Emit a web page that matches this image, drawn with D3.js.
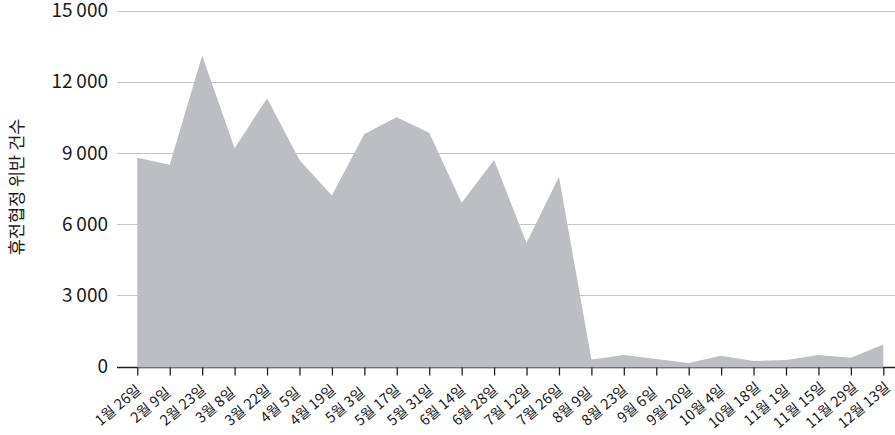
<!DOCTYPE html>
<html>
<head>
<meta charset="utf-8">
<script src="https://cdn.jsdelivr.net/npm/d3@7"></script>
<style>
  body { margin: 0; background: #fff; }
  text { font-family: "Noto Sans CJK KR", "Noto Sans", sans-serif; fill: #1a1a1a; }
</style>
</head>
<body>
<svg></svg>
<script>
const width = 895;
const height = 435;

// 날짜 (2주 간격)
const dates = ["1월 26일", "2월 9일", "2월 23일", "3월 8일", "3월 22일", "4월 5일",
    "4월 19일", "5월 3일", "5월 17일", "5월 31일", "6월 14일", "6월 28일",
    "7월 12일", "7월 26일", "8월 9일", "8월 23일", "9월 6일", "9월 20일",
    "10월 4일", "10월 18일", "11월 1일", "11월 15일", "11월 29일", "12월 13일"];
// 휴전협정 위반 건수
const violations = [8800, 8500, 13100, 9200, 11300, 8700, 7200, 9800, 10500, 9850,
    6900, 8700, 5200, 8000, 300, 480, 320, 150, 450, 230, 270, 480, 370, 930];
const yTicks = [0, 3000, 6000, 9000, 12000, 15000];
const yTickLabels = ["0", "3\u2009000", "6\u2009000", "9\u2009000", "12\u2009000", "15\u2009000"];
const yTitle = "휴전협정 위반 건수";

let svg = d3.select("svg").attr("width", width).attr("height", height);

let x = d3.scalePoint().domain(dates).range([137.3, 883.3]);
let y = d3.scaleLinear().domain([0, 15000]).range([366.5, 10.5]);

// 눈금선
let grid = svg.append("g");
grid.selectAll("line")
    .data(yTicks)
    .join("line")
    .attr("x1", 117)
    .attr("x2", width)
    .attr("y1", (d) => Math.round(y(d)) + 0.5)
    .attr("y2", (d) => Math.round(y(d)) + 0.5)
    .style("stroke", (d) => (d === 0 ? "#222" : "#c6c6c6"))
    .style("stroke-width", (d) => (d === 0 ? 1.5 : 1));

grid.selectAll("text")
    .data(yTicks)
    .join("text")
    .attr("x", 108)
    .attr("y", (d) => y(d))
    .attr("dy", "0.35em")
    .attr("text-anchor", "end")
    .style("font-size", "19px")
    .text((d, i) => yTickLabels[i]);

// 영역
let area = d3.area()
    .x((d, i) => x(dates[i]))
    .y0(y(0) + 1)
    .y1((d) => y(d));

svg.append("path")
    .attr("d", area(violations))
    .style("fill", "#bdbec2");

// x축
let xAxis = svg.append("g")
    .attr("transform", `translate(0,${y(0) + 1})`)
    .call(d3.axisBottom(x).tickSize(8).tickSizeOuter(0));
xAxis.select(".domain").remove();
xAxis.selectAll(".tick line").style("stroke", "#222").style("stroke-width", 1.3);
xAxis.selectAll(".tick text")
    .style("font-family", '"Noto Sans CJK KR", sans-serif')
    .style("font-size", "14.5px")
    .style("fill", "#1a1a1a")
    .attr("x", 0)
    .attr("y", 0)
    .attr("dy", 0)
    .attr("text-anchor", "middle")
    .attr("transform", "translate(-16.5,41.5) rotate(-40)");

// y축 제목
svg.append("text")
    .attr("transform", `translate(23, 187) rotate(-90)`)
    .attr("text-anchor", "middle")
    .style("font-size", "17.5px")
    .text(yTitle);
</script>
</body>
</html>
